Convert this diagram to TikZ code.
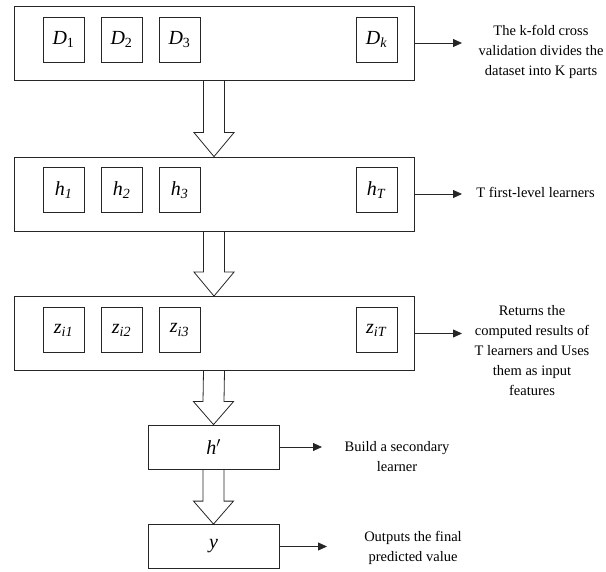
\documentclass[tikz,border=0pt]{standalone}
\usepackage{fontspec}
\setmainfont{Liberation Serif}
\usetikzlibrary{arrows.meta, positioning, calc}

\newcommand{\lab}[2]{\textit{#1}\textsubscript{#2}}
\newcommand{\hollowarrow}[3]{%
	\draw[blockarrow] ($(#1.south)+(-10.5,0)$) -- ($(#2.north)+(-10.5,-#3)$) -- ($(#2.north)+(-20,-#3)$)
		-- (#2.north) -- ($(#2.north)+(20,-#3)$) -- ($(#2.north)+(10.5,-#3)$) -- ($(#1.south)+(10.5,0)$);}

\tikzset{
	outer/.style={draw=black!85, line width=0.8pt, minimum width=400pt, minimum height=74pt, inner sep=0pt},
	fold/.style={draw=black!85, line width=0.8pt, minimum width=41pt, minimum height=45pt, inner sep=0pt, font=\fontsize{20}{24}\selectfont},
	single/.style={draw=black!85, line width=0.8pt, minimum width=131pt, minimum height=44pt, inner sep=0pt, font=\fontsize{20}{24}\selectfont},
	note/.style={align=center, inner sep=0pt, font=\fontsize{14.5}{20}\selectfont},
	pointer/.style={-{Triangle[length=9pt,width=8pt]}, line width=0.8pt, draw=black!85},
	blockarrow/.style={draw=black!85, line width=0.8pt, line join=miter}
}

\begin{document}
\begin{tikzpicture}[x=1pt, y=-1pt]
		\useasboundingbox (0,0) rectangle (606,572);

		% Stages
		\node[outer] (row1) at (214,43) {};
		\node[outer] (row2) at (214,194) {};
		\node[outer] (row3) at (214,333.5) {};
		\node[single] (meta) at (213.5,447) {\textit{h}$'$};
		\node[single] (pred) at (213.5,546.5) {\textit{y}};

		% Folds
		\node[fold] (d1) at (63.5,39.5) {\lab{D}{1}};
		\node[fold] (d2) at (121.5,39.5) {\lab{D}{2}};
		\node[fold] (d3) at (179.5,39.5) {\lab{D}{3}};
		\node[fold] (dk) at (376.5,39.5) {\lab{D}{\textit{k}}};

		% Learners
		\node[fold] (h1) at (63.5,190) {\lab{h}{\textit{1}}};
		\node[fold] (h2) at (121.5,190) {\lab{h}{\textit{2}}};
		\node[fold] (h3) at (179.5,190) {\lab{h}{\textit{3}}};
		\node[fold] (hT) at (376.5,190) {\lab{h}{\textit{T}}};

		% Results
		\node[fold] (z1) at (63.5,330) {\lab{z}{\textit{i1}}};
		\node[fold] (z2) at (121.5,330) {\lab{z}{\textit{i2}}};
		\node[fold] (z3) at (179.5,330) {\lab{z}{\textit{i3}}};
		\node[fold] (zT) at (376.5,330) {\lab{z}{\textit{iT}}};

		% Flow
		\hollowarrow{row1}{row2}{24}
		\hollowarrow{row2}{row3}{24}
		\hollowarrow{row3}{meta}{23}
		\hollowarrow{meta}{pred}{23}

		% Annotations
		\coordinate (e1) at (462,43);
		\coordinate (e2) at (462,194);
		\coordinate (e3) at (462,333.5);
		\coordinate (e4) at (322,447);
		\coordinate (e5) at (327,546.5);
		\draw[pointer] (row1) -- (e1);
		\draw[pointer] (row2) -- (e2);
		\draw[pointer] (row3) -- (e3);
		\draw[pointer] (meta) -- (e4);
		\draw[pointer] (pred) -- (e5);

		\node[note] (n1) at (541,52) {The k-fold cross\\validation divides the\\dataset into K parts};
		\node[note] (n2) at (535.5,192) {T first-level learners};
		\node[note] (n3) at (532,351) {Returns the\\computed results of\\T learners and Uses\\them as input\\features};
		\node[note] (n4) at (397,456.5) {Build a secondary\\learner};
		\node[note] (n5) at (413,547.5) {Outputs the final\\predicted value};
	\end{tikzpicture}
\end{document}
